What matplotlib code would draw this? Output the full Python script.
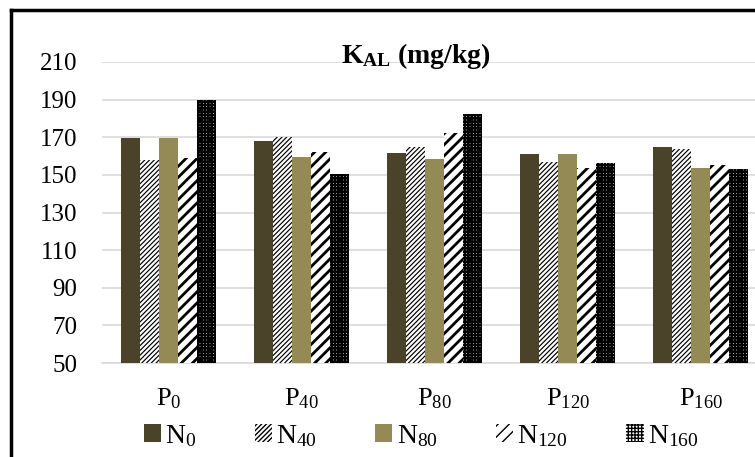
import matplotlib
matplotlib.use("Agg")
import matplotlib.pyplot as plt
import numpy as np
from matplotlib.patches import Rectangle
from matplotlib.lines import Line2D

plt.rcParams['font.family'] = ['Liberation Serif', 'DejaVu Serif']
plt.rcParams['mathtext.fontset'] = 'custom'
plt.rcParams['mathtext.rm'] = 'Liberation Serif'
plt.rcParams['mathtext.it'] = 'Liberation Serif:italic'
plt.rcParams['mathtext.bf'] = 'Liberation Serif:bold'

categories = ["P$_{0}$", "P$_{40}$", "P$_{80}$", "P$_{120}$", "P$_{160}$"]
series_names = ["N$_{0}$", "N$_{40}$", "N$_{80}$", "N$_{120}$", "N$_{160}$"]
N0 = [169.5, 168, 161.5, 161, 165]
N40 = [158, 170, 165, 157, 163.5]
N80 = [169.5, 159.5, 158.5, 161, 153.5]
N120 = [159, 162, 172, 153.5, 155.5]
N160 = [190, 150.5, 182.5, 156.5, 153]
yticks = [50, 70, 90, 110, 130, 150, 170, 190, 210]

W, H = 755, 457
fig = plt.figure(figsize=(W / 100, H / 100), dpi=100)
ax = fig.add_axes([102 / W, (H - 363) / H, 665 / W, 301 / H])

styles = [
    dict(facecolor='#4a4329', edgecolor='#4a4329', hatch=None, hlw=1.0, lw=0),
    dict(facecolor='white', edgecolor='black', hatch='///////', hlw=0.85, lw=0),
    dict(facecolor='#938a56', edgecolor='#938a56', hatch=None, hlw=1.0, lw=0),
    dict(facecolor='white', edgecolor='black', hatch='///', hlw=2.0, lw=0),
    dict(facecolor='white', edgecolor='black', hatch='+++++', hlw=1.7, lw=0),
]
data = [N0, N40, N80, N120, N160]
x = np.arange(len(categories))
bw = 0.1414
handles = []
for i, (vals, st) in enumerate(zip(data, styles)):
    with plt.rc_context({'hatch.linewidth': st['hlw']}):
        ax.bar(x + (i - 2) * bw, np.array(vals) - 50, bw, bottom=50,
               facecolor=st['facecolor'], edgecolor=st['edgecolor'],
               hatch=st['hatch'], linewidth=st['lw'], zorder=3)
        handles.append(Rectangle((0, 0), 1, 1, facecolor=st['facecolor'],
                                 edgecolor=st['edgecolor'], hatch=st['hatch'], linewidth=0))

ax.set_xlim(-0.5, 4.5)
ax.set_ylim(50, 210)
ax.set_yticks(yticks)
ax.set_yticklabels([str(v) for v in yticks], fontsize=18)
ax.set_xticks(x)
ax.set_xticklabels(categories, fontsize=19)
ax.tick_params(axis='both', length=0)
ax.tick_params(axis='y', pad=18)
ax.tick_params(axis='x', pad=17)
ax.grid(axis='y', color='#d9d9d9', linewidth=1.2, zorder=0)
ax.set_axisbelow(True)
for s in ['left', 'right', 'top']:
    ax.spines[s].set_visible(False)
ax.spines['bottom'].set_color('#d9d9d9')
ax.spines['bottom'].set_linewidth(1.2)

fig.text(416 / W, (H - 56) / H, r"K$_{\mathbf{AL}}$ (mg/kg)", fontsize=20,
         fontweight='bold', ha='center', va='center')

fig.legend(handles, series_names, loc='center', bbox_to_anchor=(421 / W, (H - 436) / H),
           ncol=5, frameon=False, fontsize=20, handlelength=0.62, handleheight=0.62,
           handletextpad=0.15, columnspacing=2.1)

# outer border
fig.add_artist(Line2D([11 / W, 11 / W], [0, (H - 10) / H], color='black', linewidth=2.5,
                      transform=fig.transFigure))
fig.add_artist(Line2D([11 / W, 1], [(H - 10) / H, (H - 10) / H], color='black', linewidth=2.5,
                      transform=fig.transFigure))

fig.savefig("out.png", dpi=100)
